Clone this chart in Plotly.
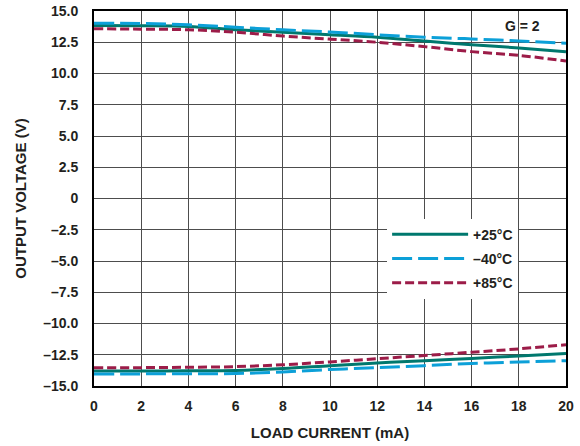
import plotly.graph_objects as go

load_ma = [0, 2, 4, 6, 8, 10, 12, 14, 16, 18, 20]

# positive swing
pos_25 = [13.85, 13.83, 13.77, 13.5, 13.3, 13.1, 12.9, 12.6, 12.3, 12.05, 11.75]
pos_m40 = [14.03, 14.0, 13.9, 13.7, 13.5, 13.32, 13.1, 12.9, 12.77, 12.6, 12.42]
pos_85 = [13.58, 13.55, 13.5, 13.3, 13.0, 12.75, 12.5, 12.15, 11.75, 11.45, 11.0]

# negative swing
neg_25 = [-13.8, -13.8, -13.78, -13.75, -13.6, -13.37, -13.15, -12.97, -12.79, -12.6, -12.4]
neg_m40 = [-14.03, -14.03, -14.02, -14.0, -13.87, -13.68, -13.53, -13.37, -13.2, -13.08, -12.97]
neg_85 = [-13.53, -13.53, -13.5, -13.45, -13.3, -13.07, -12.82, -12.56, -12.3, -12.03, -11.7]

series_names = ["+25°C", "–40°C", "+85°C"]
colors = ["#00786E", "#0CA0D8", "#9C1C48"]
dashes = ["solid", "20px,6px", "9px,4px"]

y_tickvals = [15, 12.5, 10, 7.5, 5, 2.5, 0, -2.5, -5, -7.5, -10, -12.5, -15]
y_ticktext = ["15.0", "12.5", "10.0", "7.5", "5.0", "2.5", "0", "–2.5", "–5.0", "–7.5", "–10.0", "–12.5", "–15.0"]
x_tickvals = list(range(0, 21, 2))

fig = go.Figure()
pos = [pos_25, pos_m40, pos_85]
neg = [neg_25, neg_m40, neg_85]
for i in range(3):
    fig.add_trace(go.Scatter(x=load_ma, y=pos[i], mode="lines", name=series_names[i],
                             line=dict(color=colors[i], width=3, dash=dashes[i], shape="spline"),
                             legendgroup=series_names[i], showlegend=True))
    fig.add_trace(go.Scatter(x=load_ma, y=neg[i], mode="lines", name=series_names[i],
                             line=dict(color=colors[i], width=3, dash=dashes[i], shape="spline"),
                             legendgroup=series_names[i], showlegend=False))

font_family = "Liberation Sans, Arial, sans-serif"
fig.add_annotation(x=18.16, y=13.84, text="<b>G = 2</b>", showarrow=False,
                   font=dict(size=14, color="#231F20", family=font_family))

fig.update_layout(
    width=580, height=446,
    margin=dict(l=94, r=14, t=11, b=60, autoexpand=False),
    paper_bgcolor="white", plot_bgcolor="white",
    font=dict(family=font_family, color="#231F20", size=14),
    showlegend=True,
    legend=dict(x=0.621, y=0.446, xanchor="left", yanchor="top",
                bgcolor="white", borderwidth=0,
                font=dict(size=14, family=font_family, weight="bold"),
                itemwidth=76, tracegroupgap=3),
    xaxis=dict(range=[0, 20], tickvals=x_tickvals, automargin=False,
               showgrid=True, gridcolor="#4d4d4d", gridwidth=1.3,
               showline=True, linecolor="#000000", linewidth=2, mirror=True,
               ticks="", ticklabelstandoff=6, tickfont=dict(size=14, weight="bold"),
               title=dict(text="<b>LOAD CURRENT (mA)</b>", font=dict(size=15), standoff=15),
               zeroline=False),
    yaxis=dict(range=[-15, 15], tickvals=y_tickvals, ticktext=y_ticktext, automargin=False,
               showgrid=True, gridcolor="#4d4d4d", gridwidth=1.3,
               showline=True, linecolor="#000000", linewidth=2, mirror=True,
               ticks="", ticklabelstandoff=11, tickfont=dict(size=14, weight="bold"),
               title=dict(text="<b>OUTPUT VOLTAGE (V)</b>", font=dict(size=15), standoff=13),
               zeroline=False),
)

fig.write_html("out.html", config={"displayModeBar": False},
               post_script="document.body.style.margin='0';")
